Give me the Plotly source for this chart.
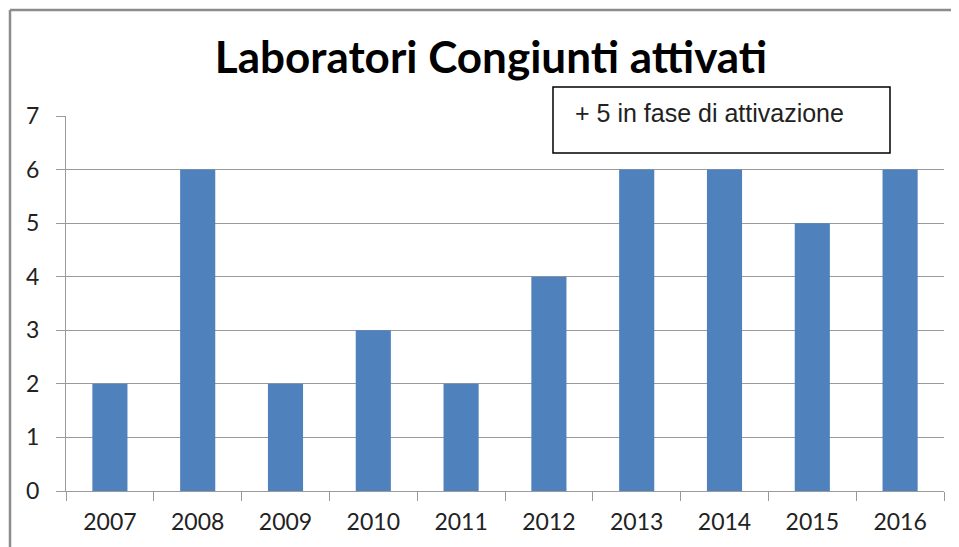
import plotly.graph_objects as go

anni = ["2007", "2008", "2009", "2010", "2011", "2012", "2013", "2014", "2015", "2016"]
laboratori = [2, 6, 2, 3, 2, 4, 6, 6, 5, 6]
y_ticks = [0, 1, 2, 3, 4, 5, 6, 7]

# la pagina ha un margine di 8px: tutto spostato di OFF
OFF = 8
W, H = 959 - OFF, 547 - OFF
L, R, T, B = 66 - OFF, 15, 116 - OFF, 56
pw, ph = W - L - R, H - T - B


# conversione pixel (riferimento) -> coordinate paper
def px(x):
    return (x - OFF - L) / pw


def py(y):
    return (H - B - (y - OFF)) / ph


fig = go.Figure(go.Bar(x=anni, y=laboratori, width=0.4,
                       marker=dict(color="#4f81bd", line=dict(width=0))))

grigio = "#9a9a9a"
fig.update_layout(
    width=W, height=H,
    margin=dict(l=L, r=R, t=T, b=B),
    paper_bgcolor="white",
    plot_bgcolor="white",
    showlegend=False,
    title=dict(text="<b>Laboratori Congiunti attivati</b>",
               x=px(491), xref="paper", xanchor="center",
               y=1 - (58 - OFF) / H, yanchor="middle",
               font=dict(family="Lato", size=44, color="black")),
    xaxis=dict(type="category", showgrid=False, showline=True, linecolor=grigio, linewidth=1,
               ticks="outside", tickson="boundaries", ticklen=9, tickcolor=grigio,
               ticklabelstandoff=10,
               tickfont=dict(family="Lato", size=23, color="#222")),
    yaxis=dict(range=[0, 7], tickvals=y_ticks, showgrid=True, gridcolor=grigio, gridwidth=1,
               zeroline=False, showline=True, linecolor=grigio, linewidth=1,
               ticks="outside", ticklen=9, tickcolor=grigio, ticklabelstandoff=12,
               tickfont=dict(family="Lato", size=23, color="#222")),
    shapes=[
        # cornice esterna (solo lato sinistro e superiore visibili)
        dict(type="line", xref="paper", yref="paper", x0=px(10), x1=px(10), y0=py(10), y1=py(H + 20),
             line=dict(color="#8c8c8c", width=2.5)),
        dict(type="line", xref="paper", yref="paper", x0=px(10), x1=px(W + 20), y0=py(10), y1=py(10),
             line=dict(color="#8c8c8c", width=2.5)),
        # riquadro nota
        dict(type="rect", xref="paper", yref="paper", x0=px(553), x1=px(890), y0=py(153), y1=py(87),
             fillcolor="white", line=dict(color="black", width=1.5), layer="above"),
    ],
    annotations=[
        dict(text="+ 5 in fase di attivazione", xref="paper", yref="paper",
             x=px(573), y=py(113), xanchor="left", yanchor="middle", showarrow=False,
             font=dict(family="Liberation Sans", size=25, color="#222")),
    ],
)

fig.write_html("out.html")
